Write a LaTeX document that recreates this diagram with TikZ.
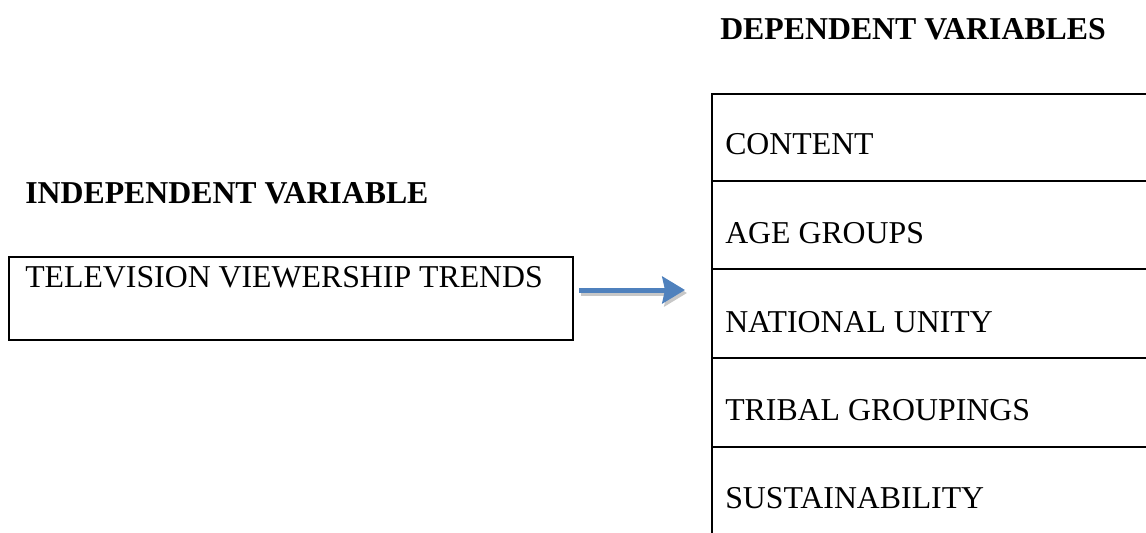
\documentclass[tikz,border=0pt]{standalone}
\usepackage{fontspec}
\setmainfont{Liberation Serif}
\usetikzlibrary{arrows.meta,calc}
\definecolor{wordblue}{HTML}{4F81BD}
\begin{document}
\begin{tikzpicture}[x=0.75pt,y=-0.75pt,
  txt/.style={anchor=base west,inner sep=0pt,font=\fontsize{23.85pt}{28pt}\selectfont},
  head/.style={txt,font=\fontsize{23.85pt}{28pt}\selectfont\bfseries},
  cell/.style={draw,line width=1.2pt,minimum width=336pt,inner sep=0pt,outer sep=0pt,anchor=north west},
  box/.style={draw,line width=1.4pt,inner sep=0pt,outer sep=0pt,anchor=north west},
  flow/.style={line width=3.75pt,draw=wordblue,-{Stealth[length=17pt,width=20pt,inset=2pt]}},
  flowshadow/.style={line width=3.75pt,draw=black!22,-{Stealth[length=17pt,width=20pt,inset=2pt]}}]
\useasboundingbox (0,0) rectangle (1146,532);
% headings
\node[head] (dep) at (720,39) {DEPENDENT VARIABLES};
\node[head] (indep) at (25,203) {INDEPENDENT VARIABLE};
% left box
\node[box,minimum width=423pt,minimum height=62.25pt] (lb) at (9,257) {};
\node[txt] (tv) at (25,287) {TELEVISION VIEWERSHIP TRENDS};
% right column of cells
\node[cell,minimum height=65.25pt] (c1) at (712,94) {};
\node[cell,minimum height=66pt] (c2) at (c1.south west) {};
\node[cell,minimum height=66.75pt] (c3) at (c2.south west) {};
\node[cell,minimum height=66.75pt] (c4) at (c3.south west) {};
\node[cell,minimum height=72pt] (c5) at (c4.south west) {};
\node[txt] (t1) at (725,154) {CONTENT};
\node[txt] (t2) at (725,243) {AGE GROUPS};
\node[txt] (t3) at (725,332) {NATIONAL UNITY};
\node[txt] (t4) at (725,420) {TRIBAL GROUPINGS};
\node[txt] (t5) at (725,508) {SUSTAINABILITY};
% arrow
\coordinate (a1) at ($(lb.east)+(6,-8.5)$);
\coordinate (a2) at ($(c3.west)+(-27,-23.5)$);
\draw[flowshadow] ($(a1)+(2,3)$) -- ($(a2)+(2,3)$);
\draw[flow] (a1) -- (a2);
\end{tikzpicture}
\end{document}
